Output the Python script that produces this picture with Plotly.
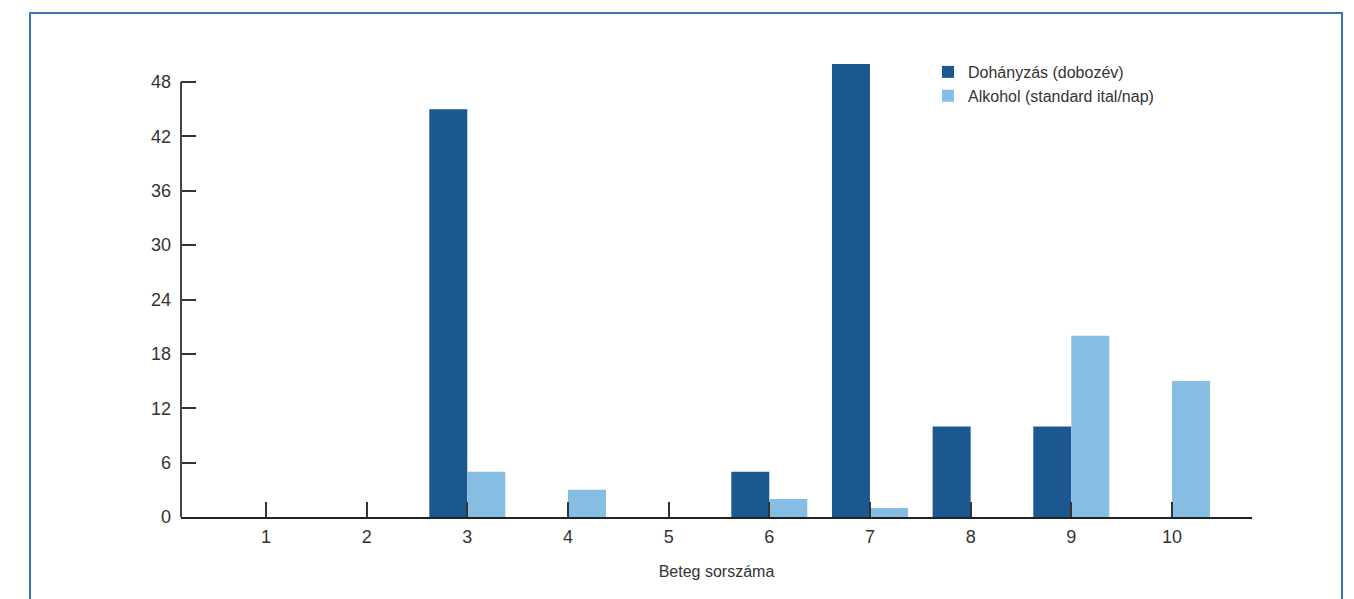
import plotly.graph_objects as go

patients = [1, 2, 3, 4, 5, 6, 7, 8, 9, 10]
smoking = [0, 0, 45, 0, 0, 5, 50, 10, 10, 0]
alcohol = [0, 0, 5, 3, 0, 2, 1, 0, 20, 15]
ytick_vals = [0, 6, 12, 18, 24, 30, 36, 42, 48]
series_names = ["Dohányzás (dobozév)", "Alkohol (standard ital/nap)"]
x_title = "Beteg sorszáma"

FONT = "Liberation Sans Narrow, Arial Narrow, Liberation Sans, Arial, sans-serif"

fig = go.Figure()
fig.add_trace(go.Bar(x=patients, y=smoking, name=series_names[0],
                     marker=dict(color="#1c5890", line=dict(width=0))))
fig.add_trace(go.Bar(x=patients, y=alcohol, name=series_names[1],
                     marker=dict(color="#86bde3", line=dict(width=0))))

# page has an 8px body margin; work in screen coordinates and offset
OFF = 8
W, H = 1354 - OFF, 599 - OFF
L, R = 181 - OFF, 102
T = 63 - OFF
B = H - (517 - OFF)
pw = W - L - R
ph = H - T - B

def px(x):
    return (x - OFF - L) / pw

def py(y):
    return (H - B - (y - OFF)) / ph

fig.update_layout(
    width=W, height=H,
    margin=dict(l=L, r=R, t=T, b=B),
    paper_bgcolor="white", plot_bgcolor="white",
    barmode="group", bargap=0.245, bargroupgap=0,
    font=dict(family=FONT, size=18, color="#333333"),
    legend=dict(x=px(928), y=py(55), xanchor="left", yanchor="top",
                font=dict(family=FONT, size=16, color="#333333"),
                bgcolor="rgba(0,0,0,0)", tracegroupgap=0, itemwidth=30),
    xaxis=dict(range=[0.156, 10.795], tickvals=patients,
               ticktext=[str(p) for p in patients],
               ticks="inside", ticklen=15, tickwidth=2, tickcolor="#333333",
               showline=True, linecolor="#222222", linewidth=2,
               showgrid=False, zeroline=False, ticklabelstandoff=2,
               title=dict(text=x_title, font=dict(family=FONT, size=16, color="#333333"), standoff=20)),
    yaxis=dict(range=[0, 50.1], tickvals=ytick_vals,
               ticks="inside", ticklen=15, tickwidth=2, tickcolor="#333333",
               showline=False, showgrid=False, zeroline=False, ticklabelstandoff=9),
    shapes=[
        dict(type="line", xref="paper", yref="y", x0=0, x1=0, y0=-0.6, y1=48,
             line=dict(color="#444444", width=2), layer="above"),
        dict(type="rect", xref="paper", yref="paper",
             x0=px(30), x1=px(1342), y0=py(13), y1=py(610),
             line=dict(color="#3f73b4", width=2), fillcolor="rgba(0,0,0,0)"),
    ],
)

fig.write_html("out.html")
